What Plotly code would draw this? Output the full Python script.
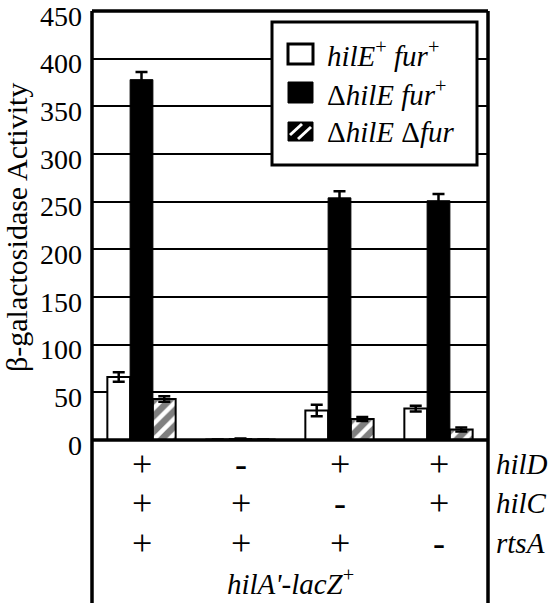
import plotly.graph_objects as go

# strains / data
groups = ["g1", "g2", "g3", "g4"]
wt_vals = [66, 0.5, 31, 33]
wt_err = [5, 0, 6, 3]
dhile_vals = [378, 1.5, 254, 251]
dhile_err = [8, 0, 7, 7]
dfur_vals = [43, 0.5, 22, 11]
dfur_err = [3, 0, 2, 2]

hilD = ["+", "-", "+", "+"]
hilC = ["+", "+", "-", "+"]
rtsA = ["+", "+", "+", "-"]
row_names = ["hilD", "hilC", "rtsA"]
yticks = [0, 50, 100, 150, 200, 250, 300, 350, 400, 450]

FONT = "Liberation Serif, Times New Roman, serif"
W, H = 550, 603
ML, MR, MT, MB = 92, 62, 11, 163
PW = W - ML - MR
PH = H - MT - MB


def px_x(px):
    return (px - ML) / PW


def px_y(py):
    return (MT + PH - py) / PH


err_style = dict(type="data", color="black", thickness=2.5, width=6)

fig = go.Figure()
fig.add_trace(go.Bar(
    x=groups, y=wt_vals, name="wt",
    error_y=dict(array=wt_err, **err_style),
    marker=dict(color="white", line=dict(color="black", width=2)),
))
fig.add_trace(go.Bar(
    x=groups, y=dhile_vals, name="dhilE",
    error_y=dict(array=dhile_err, **err_style),
    marker=dict(color="black", line=dict(color="black", width=1)),
))
fig.add_trace(go.Bar(
    x=groups, y=dfur_vals, name="dfur",
    error_y=dict(array=dfur_err, **err_style),
    marker=dict(color="white", line=dict(color="black", width=2),
                pattern=dict(shape="/", fgcolor="black", bgcolor="white",
                             size=11, solidity=0.6)),
))

shapes = []
bot = px_y(H + 5)
# frame lines
for xx in (0, 1):
    shapes.append(dict(type="line", xref="paper", yref="paper",
                       x0=xx, x1=xx, y0=bot, y1=1,
                       line=dict(color="black", width=3.5)))
for yy in (0, 1):
    shapes.append(dict(type="line", xref="paper", yref="paper",
                       x0=0, x1=1, y0=yy, y1=yy,
                       line=dict(color="black", width=3.5)))

# legend box
shapes.append(dict(type="rect", xref="paper", yref="paper",
                   x0=px_x(272), x1=px_x(477), y0=px_y(165), y1=px_y(22),
                   fillcolor="white", line=dict(color="black", width=3)))
# legend symbols
sx0, sx1 = px_x(288), px_x(313)
shapes.append(dict(type="rect", xref="paper", yref="paper",
                   x0=sx0, x1=sx1, y0=px_y(64), y1=px_y(44),
                   fillcolor="white", line=dict(color="black", width=3)))
shapes.append(dict(type="rect", xref="paper", yref="paper",
                   x0=sx0, x1=sx1, y0=px_y(103), y1=px_y(82),
                   fillcolor="black", line=dict(color="black", width=1)))
shapes.append(dict(type="rect", xref="paper", yref="paper",
                   x0=sx0, x1=sx1, y0=px_y(141), y1=px_y(122),
                   fillcolor="black", line=dict(color="black", width=1)))
for a, b in [((290, 135), (302, 124)), ((298, 139), (311, 127))]:
    shapes.append(dict(type="line", xref="paper", yref="paper",
                       x0=px_x(a[0]), y0=px_y(a[1]), x1=px_x(b[0]), y1=px_y(b[1]),
                       line=dict(color="white", width=3)))

annotations = []
leg_text = ["<i>hilE</i><sup>+</sup><i> fur</i><sup>+</sup>",
            "Δ<i>hilE fur</i><sup>+</sup>",
            "Δ<i>hilE</i> Δ<i>fur</i>"]
for t, yy in zip(leg_text, [54, 93, 132]):
    annotations.append(dict(text=t, xref="paper", yref="paper",
                            x=px_x(325), y=px_y(yy), xanchor="left",
                            yanchor="middle", showarrow=False,
                            font=dict(family=FONT, size=29, color="black")))

# genotype table
for row, name, yy in zip([hilD, hilC, rtsA], row_names, [464, 503, 543]):
    for g, s in zip(groups, row):
        annotations.append(dict(text=s, xref="x", yref="paper", x=g,
                                y=px_y(yy), xanchor="center", yanchor="middle",
                                showarrow=False,
                                font=dict(family=FONT, size=36, color="black")))
    annotations.append(dict(text="<i>%s</i>" % name, xref="paper", yref="paper",
                            x=px_x(494), y=px_y(yy), xanchor="left",
                            yanchor="middle", showarrow=False,
                            font=dict(family=FONT, size=29, color="black")))
annotations.append(dict(text="<i>hilA'-lacZ</i><sup>+</sup>", xref="paper",
                        yref="paper", x=px_x(290), y=px_y(582),
                        xanchor="center", yanchor="middle", showarrow=False,
                        font=dict(family=FONT, size=29, color="black")))
annotations.append(dict(text="β-galactosidase Activity", xref="paper",
                        yref="paper", x=px_x(16), y=px_y(228), textangle=-90,
                        xanchor="center", yanchor="middle", showarrow=False,
                        font=dict(family=FONT, size=30, color="black")))

fig.update_layout(
    width=W, height=H,
    margin=dict(l=ML, r=MR, t=MT, b=MB, autoexpand=False),
    paper_bgcolor="white", plot_bgcolor="white",
    barmode="group", bargap=0.31, bargroupgap=0,
    showlegend=False,
    shapes=shapes, annotations=annotations,
    xaxis=dict(showticklabels=False, showgrid=False, zeroline=False,
               showline=False, ticks=""),
    yaxis=dict(range=[0, 450.01], tickmode="array", tickvals=yticks,
               showgrid=True, gridcolor="black", gridwidth=2,
               zeroline=False, showline=False, ticks="",
               ticklabelstandoff=9, ticklabelshift=5,
               ticklabeloverflow="allow",
               tickfont=dict(family=FONT, size=28, color="black")),
)

fig.write_html("out.html", config={"displayModeBar": False},
               post_script="document.body.style.margin='0';")
